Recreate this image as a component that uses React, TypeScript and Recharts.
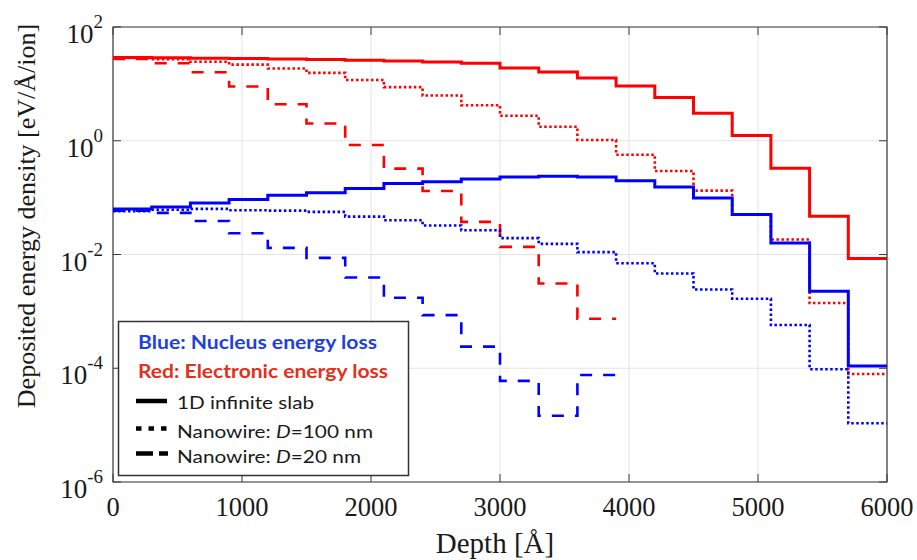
import React from 'react';
import { LineChart, Line, XAxis, YAxis, CartesianGrid, ReferenceArea } from 'recharts';

// Depth bins (Å)
const BIN_WIDTH = 300;
const X_TICKS = [0, 1000, 2000, 3000, 4000, 5000, 6000];
const Y_TICKS = [1e-6, 1e-4, 1e-2, 1, 1e2];

// Red: electronic energy loss [eV/Å/ion], one value per 300 Å bin
const electronicSlab = [29.0, 28.8, 28.2, 27.8, 27.5, 26.8, 26.0, 25.3, 24.3, 23.1, 19.1, 16.2, 12.7, 9.2, 5.75, 3.06, 1.24, 0.327, 0.047, 0.0085];
const electronicD100 = [28.5, 27.1, 24.5, 21.8, 18.6, 15.6, 11.7, 8.75, 6.24, 4.22, 2.75, 1.76, 1.03, 0.568, 0.294, 0.133, 0.0503, 0.0183, 0.0014, 7.9e-5];
const electronicD20 = [27.5, 23.1, 16.0, 8.98, 4.39, 2.01, 0.84, 0.323, 0.131, 0.0374, 0.0136, 0.0031, 0.00074];

// Blue: nucleus energy loss
const nucleusSlab = [0.0634, 0.0687, 0.0807, 0.0923, 0.110, 0.122, 0.144, 0.178, 0.191, 0.213, 0.231, 0.237, 0.231, 0.199, 0.154, 0.0986, 0.0503, 0.016, 0.00227, 1.1e-4];
const nucleusD100 = [0.0575, 0.0612, 0.0634, 0.060, 0.0591, 0.0561, 0.0464, 0.040, 0.0323, 0.0267, 0.0194, 0.0154, 0.011, 0.00703, 0.00464, 0.00243, 0.00167, 5.75e-4, 9.6e-5, 1.08e-5];
const nucleusD20 = [0.059, 0.054, 0.0388, 0.0237, 0.0131, 0.00874, 0.00394, 0.00174, 8.6e-4, 2.4e-4, 6.0e-5, 1.46e-5, 7.6e-5];

const LEGEND_TITLES = ['Blue: Nucleus energy loss', 'Red: Electronic energy loss'];
const LEGEND_ITEMS = ['1D infinite slab', 'Nanowire: ', 'Nanowire: '];

const RED = '#ff0000';
const BLUE = '#0000ff';
const AXIS = '#3a3a3a';
const SERIF = '"Liberation Serif", "Times New Roman", serif';
const SANS = 'Lato, "Open Sans", sans-serif';

const PLOT_W = 774;
const PLOT_H = 455;
const TICK_LEN = 8;

function toSteps(values: number[]) {
  const pts = values.map((v, i) => ({ depth: i * BIN_WIDTH, value: v }));
  pts.push({ depth: values.length * BIN_WIDTH, value: values[values.length - 1] });
  return pts;
}

function XTick(props: any) {
  const { x, y, payload } = props;
  return (
    <g>
      <line x1={x} x2={x} y1={y} y2={y - TICK_LEN} stroke={AXIS} strokeWidth={1} />
      <line x1={x} x2={x} y1={y - PLOT_H} y2={y - PLOT_H + TICK_LEN} stroke={AXIS} strokeWidth={1} />
      <text x={x} y={y + 34} textAnchor="middle" fontFamily={SERIF} fontSize={26.5} fill="#1a1a1a">
        {payload.value}
      </text>
    </g>
  );
}

function YTick(props: any) {
  const { x, y, payload } = props;
  const exp = Math.round(Math.log10(payload.value));
  return (
    <g>
      <line x1={x} x2={x + TICK_LEN} y1={y} y2={y} stroke={AXIS} strokeWidth={1} />
      <line x1={x + PLOT_W} x2={x + PLOT_W - TICK_LEN} y1={y} y2={y} stroke={AXIS} strokeWidth={1} />
      <text x={x - 10} y={y + 16} textAnchor="end" fontFamily={SERIF} fontSize={27} fill="#1a1a1a">
        10<tspan dy={-15} fontSize={19}>{String(exp)}</tspan>
      </text>
    </g>
  );
}

export default function App() {
  const common = { type: 'stepAfter' as const, dataKey: 'value', dot: false, activeDot: false, isAnimationActive: false };
  return (
    <div style={{ position: 'absolute', left: 0, top: 0, width: 917, height: 560, background: '#fff' }}>
      <LineChart width={917} height={560} margin={{ top: 27, right: 30, bottom: 0, left: 0 }}>
        <CartesianGrid stroke="#e3e3e3" strokeWidth={1} />
        <XAxis
          dataKey="depth"
          type="number"
          domain={[0, 6000]}
          ticks={X_TICKS}
          allowDataOverflow
          height={78}
          tickLine={false}
          axisLine={false}
          tickSize={0}
          tickMargin={0}
          tick={<XTick />}
          interval={0}
        />
        <YAxis
          type="number"
          scale="log"
          domain={[1e-6, 100]}
          ticks={Y_TICKS}
          allowDataOverflow
          width={113}
          tickLine={false}
          axisLine={false}
          tickSize={0}
          tickMargin={0}
          tick={<YTick />}
          interval={0}
        />
        <Line {...common} data={toSteps(electronicSlab)} stroke={RED} strokeWidth={3} />
        <Line {...common} data={toSteps(electronicD100)} stroke={RED} strokeWidth={2.6} strokeDasharray="2.5 2.5" />
        <Line {...common} data={toSteps(electronicD20)} stroke={RED} strokeWidth={2.6} strokeDasharray="12 11" />
        <Line {...common} data={toSteps(nucleusSlab)} stroke={BLUE} strokeWidth={3} />
        <Line {...common} data={toSteps(nucleusD100)} stroke={BLUE} strokeWidth={2.6} strokeDasharray="2.5 2.5" />
        <Line {...common} data={toSteps(nucleusD20)} stroke={BLUE} strokeWidth={2.6} strokeDasharray="12 11" />
        <ReferenceArea x1={0} x2={6000} y1={1e-6} y2={100} fill="none" fillOpacity={0} stroke={AXIS} strokeWidth={1.2} ifOverflow="visible" />
      </LineChart>
      <svg width={917} height={560} style={{ position: 'absolute', left: 0, top: 0, pointerEvents: 'none' }}>
        <text transform="translate(35, 216) rotate(-90)" textAnchor="middle" fontFamily={SERIF} fontSize={26} fill="#1a1a1a">
          Deposited energy density [eV/Å/ion]
        </text>
        <text x={495} y={553} textAnchor="middle" fontFamily={SERIF} fontSize={29} fill="#1a1a1a">
          Depth [Å]
        </text>
        <g>
          <rect x={118.5} y={321.5} width={290} height={154} fill="#fff" stroke="#333" strokeWidth={1.5} />
          <text x={138} y={349} fontFamily={SANS} fontWeight={700} fontSize={18} fill="#1f3fe0" textLength={239} lengthAdjust="spacingAndGlyphs">
            {LEGEND_TITLES[0]}
          </text>
          <text x={138} y={378} fontFamily={SANS} fontWeight={700} fontSize={18} fill="#e3301c" textLength={250} lengthAdjust="spacingAndGlyphs">
            {LEGEND_TITLES[1]}
          </text>
          <line x1={136} x2={167} y1={401} y2={401} stroke="#000" strokeWidth={4.5} />
          <line x1={136} x2={167} y1={428.5} y2={428.5} stroke="#000" strokeWidth={4.5} strokeDasharray="5.5 7" />
          <line x1={136} x2={168} y1={453.5} y2={453.5} stroke="#000" strokeWidth={4.5} strokeDasharray="17 6" />
          <text x={177} y={409} fontFamily={SANS} fontSize={18} fill="#1a1a1a" textLength={137} lengthAdjust="spacingAndGlyphs">
            {LEGEND_ITEMS[0]}
          </text>
          <text x={177} y={438} fontFamily={SANS} fontSize={18} fill="#1a1a1a" textLength={196} lengthAdjust="spacingAndGlyphs">
            {LEGEND_ITEMS[1]}<tspan fontStyle="italic">D</tspan>=100 nm
          </text>
          <text x={177} y={463} fontFamily={SANS} fontSize={18} fill="#1a1a1a" textLength={184} lengthAdjust="spacingAndGlyphs">
            {LEGEND_ITEMS[2]}<tspan fontStyle="italic">D</tspan>=20 nm
          </text>
        </g>
      </svg>
    </div>
  );
}
